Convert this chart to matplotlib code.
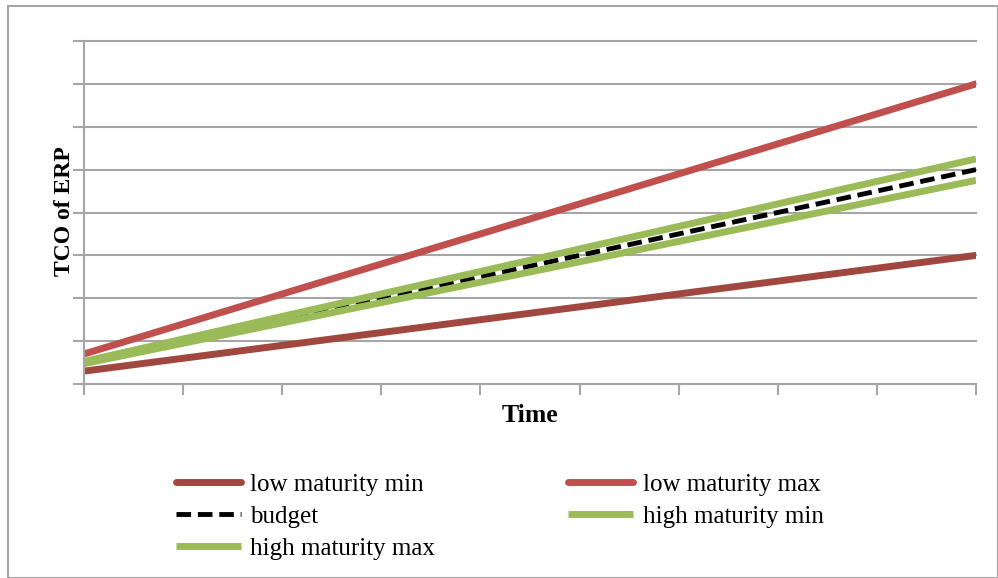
import matplotlib.pyplot as plt
from matplotlib.patches import Rectangle

# TCO per time period (arbitrary units, 0-8 grid)
periods = list(range(10))
low_min = [0.3, 0.6, 0.9, 1.2, 1.5, 1.8, 2.1, 2.4, 2.7, 3.0]
low_max = [0.7, 1.4, 2.1, 2.8, 3.5, 4.2, 4.9, 5.6, 6.3, 7.0]
budget = [0.5, 1.0, 1.5, 2.0, 2.5, 3.0, 3.5, 4.0, 4.5, 5.0]
high_min = [0.475, 0.95, 1.425, 1.9, 2.375, 2.85, 3.325, 3.8, 4.275, 4.75]
high_max = [0.525, 1.05, 1.575, 2.1, 2.625, 3.15, 3.675, 4.2, 4.725, 5.25]

serif = ["Liberation Serif", "DejaVu Serif"]
grid_col = "#A6A6A6"

fig = plt.figure(figsize=(9.98, 5.78), dpi=100)
W, H = 998, 578
ax = fig.add_axes([84 / W, 1 - 384 / H, (976 - 84) / W, (384 - 41) / H])

# same drawing order as the original series
l1, = ax.plot(periods, low_min, color="#A0483F", lw=5, solid_capstyle="round", label="low maturity min")
l2, = ax.plot(periods, low_max, color="#C0504D", lw=5, solid_capstyle="round", label="low maturity max")
l3, = ax.plot(periods, budget, color="black", lw=3.5, dashes=(3, 1.4), label="budget")
l4, = ax.plot(periods, high_min, color="#9BBB59", lw=5, solid_capstyle="butt", label="high maturity min")
l5, = ax.plot(periods, high_max, color="#9BBB59", lw=5, solid_capstyle="butt", label="high maturity max")

ax.set_xlim(0, 9)
ax.set_ylim(0, 8)
ax.set_yticks(range(9))
ax.set_xticks(range(10))
ax.set_yticklabels([])
ax.set_xticklabels([])
ax.grid(axis="y", color=grid_col, lw=1.5)
for g in ax.get_ygridlines():
    g.set_clip_on(False)
ax.set_axisbelow(True)
for s in ["top", "right"]:
    ax.spines[s].set_visible(False)
for s in ["left", "bottom"]:
    ax.spines[s].set_color(grid_col)
    ax.spines[s].set_linewidth(1.5)
ax.tick_params(axis="both", direction="out", length=8, width=1.5, color=grid_col)

fig.text(530 / W, 1 - 415 / H, "Time", fontsize=18.5, fontweight="bold", family=serif,
         ha="center", va="center")
fig.text(65 / W, 1 - 211 / H, "TCO of ERP", fontsize=17, fontweight="bold", family=serif,
         ha="center", va="center", rotation=90)

handles = [l1, l3, l5, l2, l4]
fig.legend(handles=handles, labels=[h.get_label() for h in handles], ncol=2,
           loc="upper left", bbox_to_anchor=(153 / W, 1 - 451 / H), frameon=False,
           prop={"family": serif, "size": 18}, handlelength=2.6, handletextpad=0.4,
           columnspacing=5.3, labelspacing=0.38)

fig.patches.append(Rectangle((8 / W, 0), 1 - 8 / W, 1 - 6 / H, transform=fig.transFigure,
                             fill=False, edgecolor=grid_col, lw=1.5))

fig.savefig("out.png", dpi=100)
